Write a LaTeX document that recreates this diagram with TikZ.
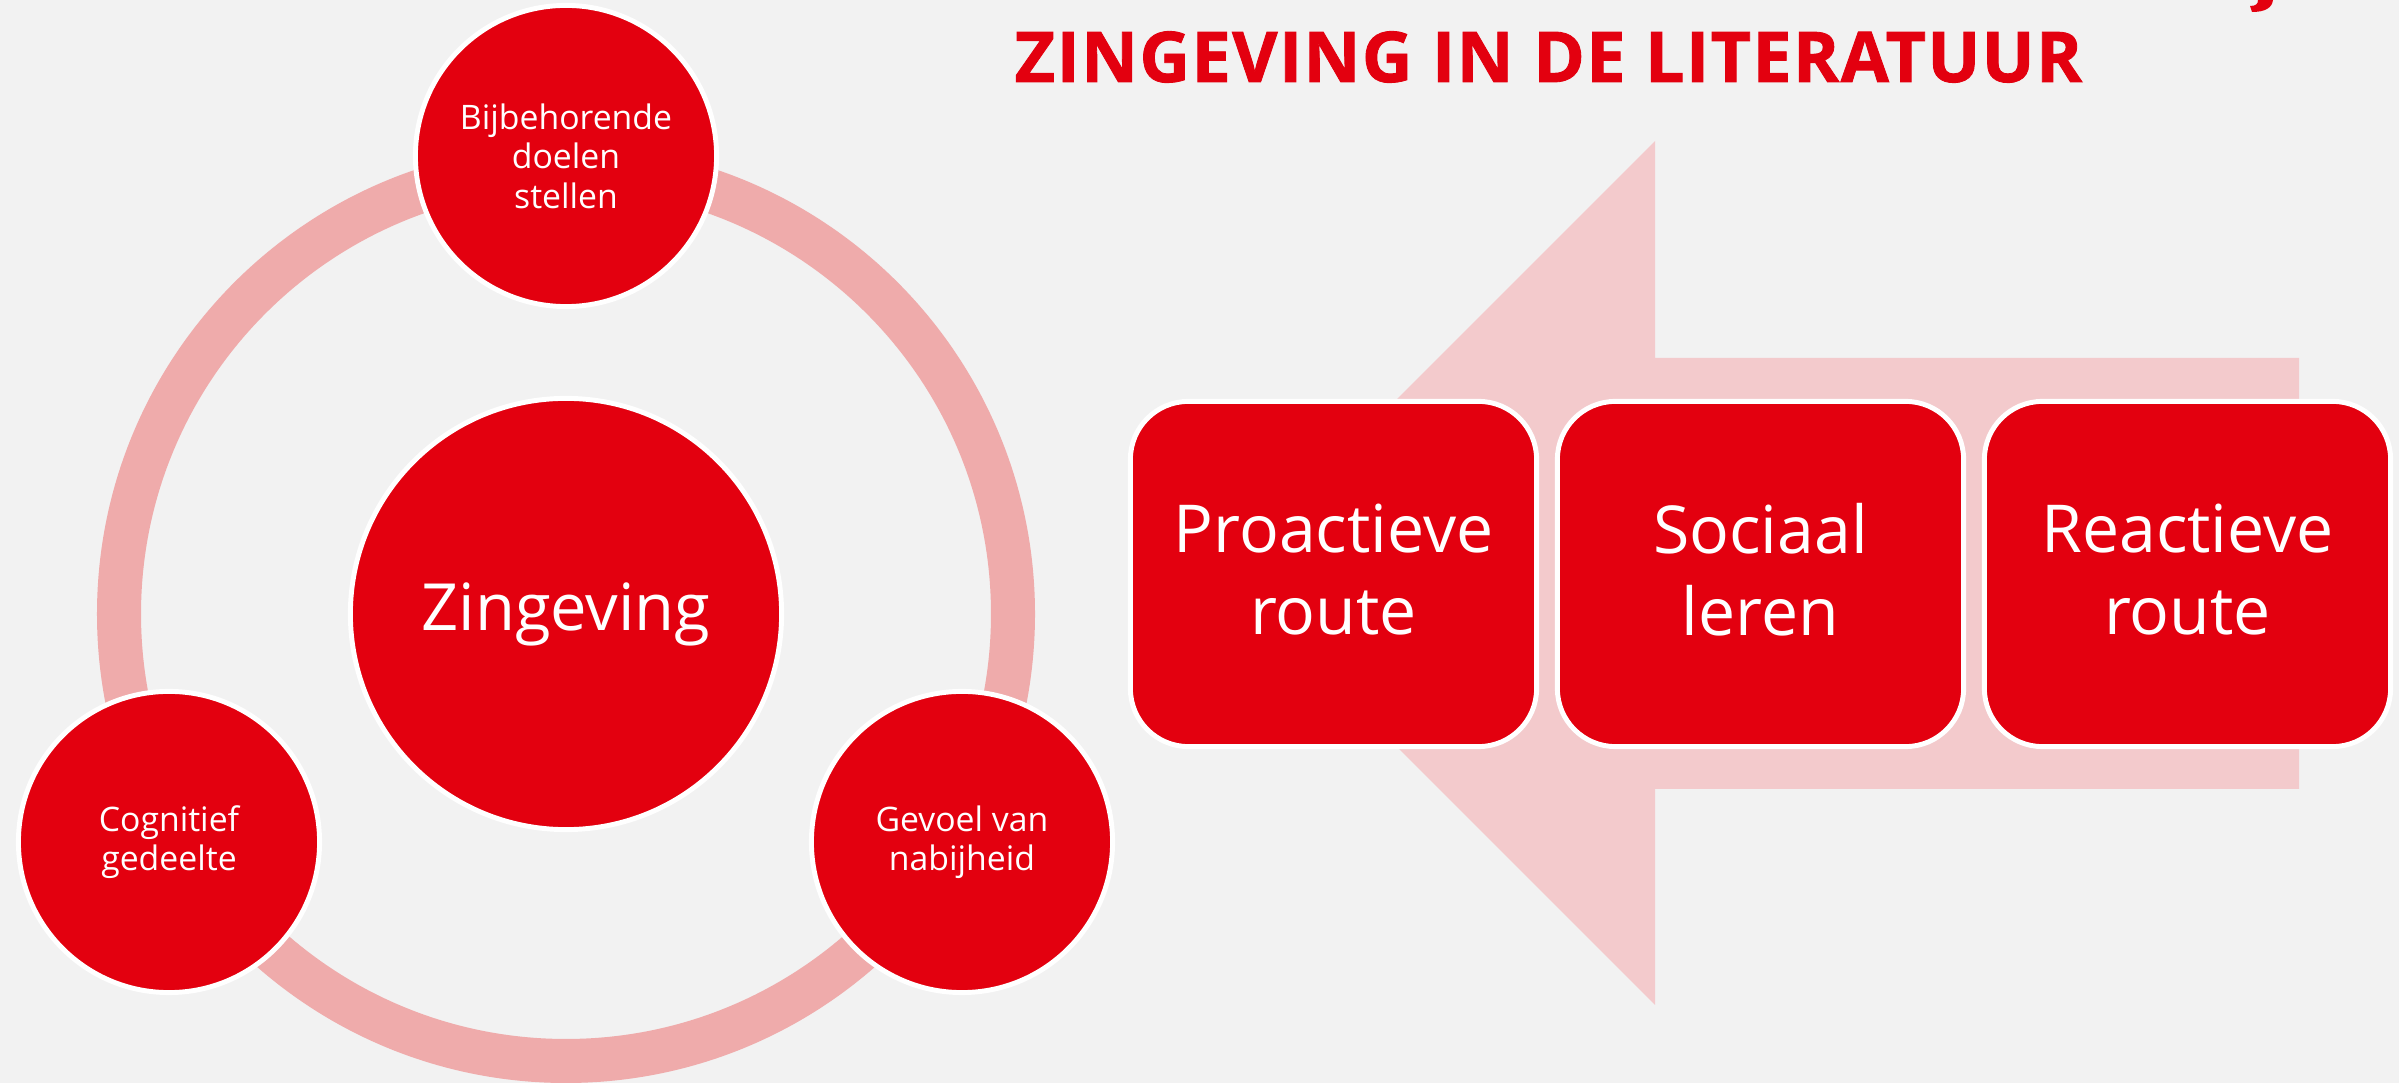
\documentclass[tikz,border=0pt]{standalone}
\usepackage{fontspec}
\setmainfont{Open Sans}
\newfontfamily\titelfont{Open Sans}[BoldFeatures={FakeBold=1.2, LetterSpace=2}]
\usepackage{xcolor}
\usepackage{tikz}
\usetikzlibrary{calc}

\definecolor{zred}{HTML}{E3000F}
\definecolor{zbg}{HTML}{F2F2F2}
\definecolor{zring}{HTML}{EFABAB}
\definecolor{zarrow}{HTML}{F3CACC}

\begin{document}
\begin{tikzpicture}[x=0.01cm, y=-0.01cm,
    kleinecirkel/.style={circle, fill=zred, draw=white, line width=1.4pt, inner sep=0pt,
        minimum size=3.01cm, text=white, align=center, font=\fontsize{9.6}{11.2}\selectfont},
    grotecirkel/.style={kleinecirkel, minimum size=4.31cm, font=\fontsize{18.5}{22}\selectfont},
    routeblok/.style={rectangle, rounded corners=0.58cm, fill=zred, draw=white, line width=1.4pt,
        minimum width=4.06cm, minimum height=3.45cm, text=white, align=center,
        text depth=0.09cm, font=\fontsize{18.8}{23.3}\selectfont}]

        % background and size
        \fill[zbg] (0,0) rectangle (2399,1083);
        \useasboundingbox (0,0) rectangle (2399,1083);

        \coordinate (C) at (566,614);
        \def\r{447} % radius of the ring

        % big arrow pointing left
        \fill[zarrow] (1223,573) -- (1655,141) -- (1655,358) -- (2299,358)
             -- (2299,789) -- (1655,789) -- (1655,1005) -- cycle;

        % ring behind the circles
        \draw[zring, line width=0.44cm] (C) circle [radius=\r];

        % circles
        \node[grotecirkel] (zingeving) at (C) {Zingeving};
        \node[kleinecirkel] (doelen) at (566,156) {Bijbehorende\\doelen\\stellen};
        \node[kleinecirkel] (cognitief) at (169,842) {Cognitief\\gedeelte};
        \node[kleinecirkel] (nabijheid) at (962,842) {Gevoel van\\nabijheid};

        % routes
        \node[routeblok] (proactief) at (1333.5,574) {Proactieve\\route};
        \node[routeblok] (sociaal) at (1760.5,574) {Sociaal\\leren};
        \node[routeblok] (reactief) at (2187.5,574) {Reactieve\\route};

        % title
        \node[anchor=base west, inner sep=0pt, text=zred,
              font=\titelfont\bfseries\fontsize{19.9}{24}\selectfont] (titel) at (1014,82)
              {ZINGEVING IN DE LITERATUUR};

        % cut off letter top right
        \fill[zred] (2257,0) -- (2273,0) .. controls (2272,8) and (2265,12) .. (2252,12)
             -- (2250,6) .. controls (2256,6) and (2258,4) .. (2258,0) -- cycle;

\end{tikzpicture}
\end{document}
